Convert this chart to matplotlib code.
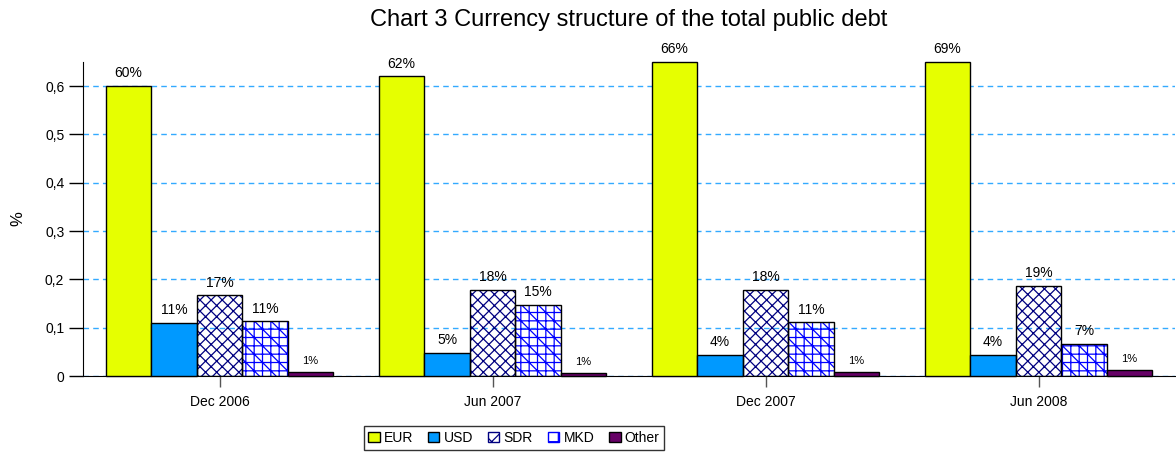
'''
Chart 3: Currency structure of the total public debt
'''

import numpy as np
import matplotlib
matplotlib.use("Agg")
import matplotlib.pyplot as plt
from matplotlib.patches import Patch

plt.rcParams['font.family'] = ['Liberation Sans', 'DejaVu Sans']
plt.rcParams['hatch.linewidth'] = 0.9

periods = ["Dec 2006", "Jun 2007", "Dec 2007", "Jun 2008"]
currencies = ["EUR", "USD", "SDR", "MKD", "Other"]
eur = [0.60, 0.62, 0.66, 0.69]
usd = [0.11, 0.047, 0.043, 0.043]
sdr = [0.167, 0.178, 0.178, 0.187]
mkd = [0.113, 0.147, 0.111, 0.066]
other = [0.008, 0.006, 0.009, 0.012]
series = [eur, usd, sdr, mkd, other]

face = ["#e6ff00", "#0099ff", "none", "none", "#660066"]
hatch_col = [None, None, "#000080", "#0000ff", None]
hatches = [None, None, "xxx", "++\\\\", None]

fig = plt.figure(figsize=(11.76, 4.55), dpi=100)
ax = fig.add_axes([83 / 1176, 1 - 376 / 455, 1092 / 1176, 314 / 455])

x = np.arange(len(periods))
w = 1 / 6
ymax = 0.65

for i, (name, vals) in enumerate(zip(currencies, series)):
    pos = x + (i - 2) * w
    # the original chart cuts bars off at the top of the axis
    h = np.minimum(vals, ymax)
    if hatches[i]:
        ax.bar(pos, h, w, color="none", edgecolor=hatch_col[i],
               hatch=hatches[i], linewidth=0, zorder=2)
        ax.bar(pos, h, w, color="none", edgecolor="black", linewidth=1, zorder=3)
    else:
        ax.bar(pos, h, w, color=face[i], edgecolor="black", linewidth=1, zorder=3,
               clip_on=False)
    fs = 8 if name == "Other" else 10
    for p, top, v in zip(pos, h, vals):
        ax.text(p, top + 0.012, f"{round(v * 100):.0f}%",
                ha="center", va="bottom", fontsize=fs, clip_on=False)

ax.set_xlim(-0.5, len(periods) - 0.5)
ax.set_ylim(0, ymax)
ax.set_yticks(np.arange(0, 0.61, 0.1))
ax.set_yticklabels(["0"] + [f"0,{k}" for k in range(1, 7)], fontsize=10)
ax.set_xticks(x)
ax.set_xticklabels(periods, fontsize=10)
ax.tick_params(axis="y", length=10, width=1)
ax.tick_params(axis="x", length=8, width=1, color="#555555", pad=6)
ax.grid(axis="y", color="#33aaff", linestyle=(0, (4, 3)), linewidth=1)
ax.set_axisbelow(True)
for s in ["top", "right"]:
    ax.spines[s].set_visible(False)
ax.set_ylabel("%", fontsize=12, labelpad=14)

ax.set_title("Chart 3 Currency structure of the total public debt", fontsize=17,
             pad=26)

handles = [
    Patch(facecolor=face[0], edgecolor="black"),
    Patch(facecolor=face[1], edgecolor="black"),
    Patch(facecolor="white", edgecolor=hatch_col[2], hatch="xx"),
    Patch(facecolor="white", edgecolor=hatch_col[3], hatch="+\\"),
    Patch(facecolor=face[4], edgecolor="black"),
]
fig.legend(handles, currencies, loc="center", bbox_to_anchor=(514 / 1176, 1 - 438 / 455),
           ncol=5, fontsize=10, frameon=True, fancybox=False, edgecolor="black",
           handlelength=0.8, handleheight=0.8, handletextpad=0.3, columnspacing=1.1,
           borderpad=0.35)

fig.savefig("out.png", dpi=100)
